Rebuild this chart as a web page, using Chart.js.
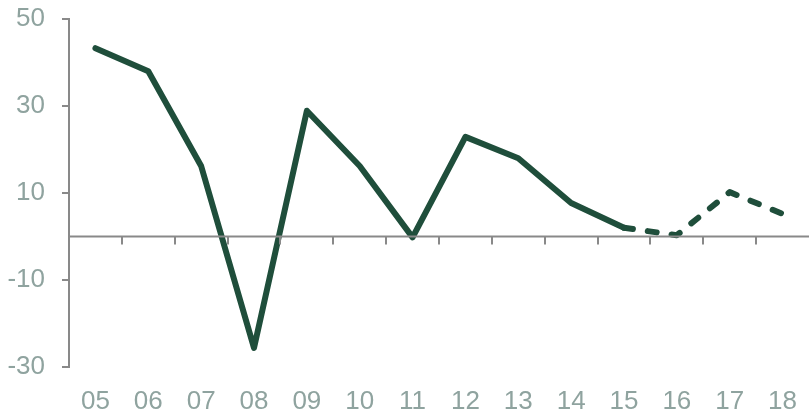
<!DOCTYPE html>
<html>
<head>
<meta charset="utf-8">
<script src="https://cdn.jsdelivr.net/npm/chart.js@4.4.0/dist/chart.umd.min.js"></script>
<style>
  html, body { margin: 0; padding: 0; background: #fff; }
  #wrap { width: 809px; height: 413px; }
</style>
</head>
<body>
<div id="wrap"><canvas id="chart"></canvas></div>
<script>
const years = ['05', '06', '07', '08', '09', '10', '11', '12', '13', '14', '15', '16', '17', '18']
const growth = [43.3, 38.0, 16.2, -25.6, 28.9, 16.2, -0.2, 22.9, 18.0, 7.7, 2.0, 0.3, 10.2, 5.2]
// from this index on the values are forecasts, drawn dashed
const forecastFrom = 10

const axisGrey = '#898989'
const labelGrey = '#8fa39f'

// zero line with small category ticks hanging below it
let zeroAxis = {
  id: 'zeroAxis',
  afterDatasetsDraw(chart) {
    let ctx = chart.ctx
    let x = chart.scales.x
    let y0 = chart.scales.y.getPixelForValue(0)
    let area = chart.chartArea
    ctx.save()
    ctx.strokeStyle = axisGrey
    ctx.lineWidth = 2
    ctx.beginPath()
    ctx.moveTo(area.left, y0)
    ctx.lineTo(area.right, y0)
    for (let i = 1; i < years.length; i++) {
      let px = Math.round((x.getPixelForValue(i - 1) + x.getPixelForValue(i)) / 2)
      ctx.moveTo(px, y0)
      ctx.lineTo(px, y0 + 8)
    }
    ctx.stroke()
    ctx.restore()
  }
}

new Chart(document.getElementById('chart'), {
  type: 'line',
  data: {
    labels: years,
    datasets: [{
      data: growth,
      borderColor: '#1f4e3b',
      borderWidth: 6,
      borderCapStyle: 'round',
      borderJoinStyle: 'round',
      pointRadius: 0,
      tension: 0,
      segment: {
        borderDash: ctx => ctx.p0DataIndex >= forecastFrom ? [9, 15] : undefined
      }
    }]
  },
  options: {
    responsive: true,
    maintainAspectRatio: false,
    animation: false,
    layout: { padding: { top: 19, right: 0, left: 0, bottom: 0 } },
    plugins: {
      legend: { display: false },
      tooltip: { enabled: false }
    },
    scales: {
      x: {
        offset: true,
        grid: { display: false, drawTicks: true, tickLength: 19 },
        border: { display: false },
        ticks: {
          color: labelGrey,
          padding: 0,
          maxRotation: 0,
          autoSkip: false,
          font: { family: 'Liberation Sans', size: 26 }
        },
        afterFit: scale => {
          scale.height = 46
          scale.paddingLeft = 0
          scale.paddingRight = 0
        }
      },
      y: {
        min: -30,
        max: 50,
        grid: {
          drawOnChartArea: false,
          color: axisGrey,
          lineWidth: 2,
          tickLength: 7
        },
        border: { color: axisGrey, width: 2 },
        ticks: {
          stepSize: 20,
          color: labelGrey,
          padding: 17,
          font: { family: 'Liberation Sans', size: 26 }
        },
        afterFit: scale => {
          scale.width = 69
          scale.paddingTop = 0
          scale.paddingBottom = 0
        }
      }
    }
  },
  plugins: [zeroAxis]
})
</script>
</body>
</html>
